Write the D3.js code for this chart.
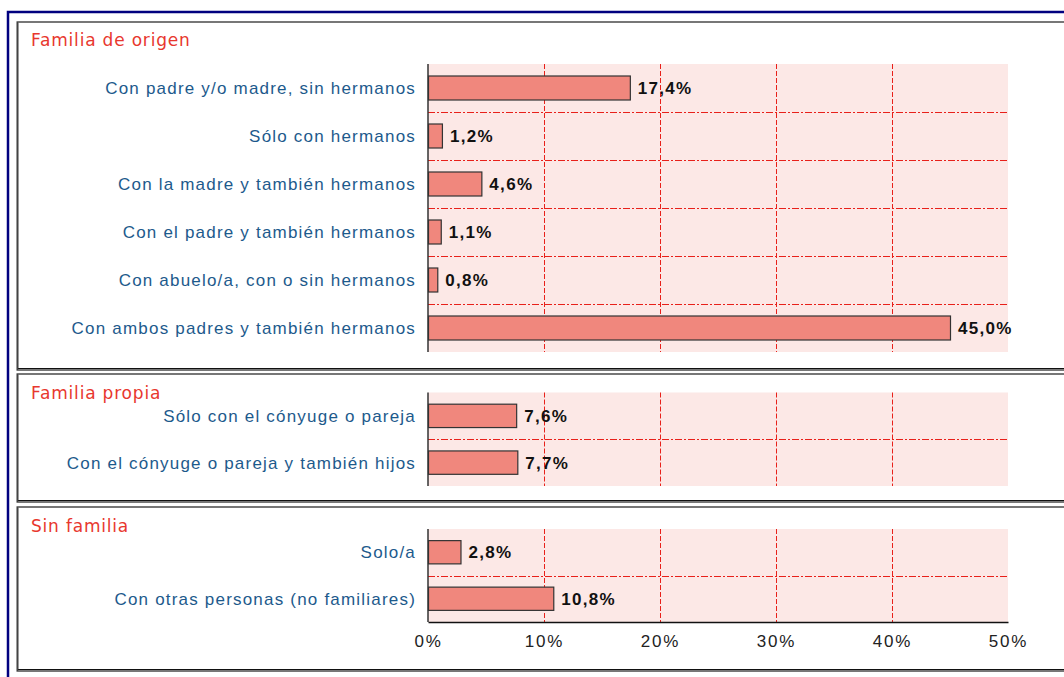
<!DOCTYPE html>
<html>
<head>
<meta charset="utf-8">
<script src="https://cdn.jsdelivr.net/npm/d3@7"></script>
<style>
body{margin:0;background:#fff;}
svg{display:block;}
</style>
</head>
<body>
<div id="chart"></div>
<script>
(function(){
var width = 1064,
	height = 677;

// data
var groupTitles = ["Familia de origen", "Familia propia", "Sin familia"];
var cats1 = ["Con padre y/o madre, sin hermanos", "Sólo con hermanos", "Con la madre y también hermanos",
	"Con el padre y también hermanos", "Con abuelo/a, con o sin hermanos", "Con ambos padres y también hermanos"];
var vals1 = [17.4, 1.2, 4.6, 1.1, 0.8, 45.0];
var cats2 = ["Sólo con el cónyuge o pareja", "Con el cónyuge o pareja y también hijos"];
var vals2 = [7.6, 7.7];
var cats3 = ["Solo/a", "Con otras personas (no familiares)"];
var vals3 = [2.8, 10.8];
var xTicks = [0, 10, 20, 30, 40, 50];

// layout
var plot_left = 428, plot_right = 1008;
var panels = [
	{title:groupTitles[0], cats:cats1, vals:vals1, box:[22,370], title_y:46, plot:[64,352], axis:false},
	{title:groupTitles[1], cats:cats2, vals:vals2, box:[374,502], title_y:399, plot:[392.5,486], axis:false},
	{title:groupTitles[2], cats:cats3, vals:vals3, box:[507,671], title_y:532, plot:[529,622], axis:true}
];

var X = d3.scaleLinear().domain([0,50]).range([plot_left, plot_right]);
var fmt = function(v){ return d3.format(".1f")(v).replace(".", ",") + "%"; };

var svg = d3.select("#chart").append("svg")
	.attr("width", width)
	.attr("height", height);

// outer navy frame
svg.append("path")
	.attr("d", "M8,"+height+" V12 H"+(width+5))
	.attr("fill","none")
	.attr("stroke","#00007f")
	.attr("stroke-width",2.5);

panels.forEach(function(p){
	var g = svg.append("g");

	// panel frame
	g.append("rect")
		.attr("x",17.5).attr("y",p.box[0])
		.attr("width",width).attr("height",p.box[1]-p.box[0])
		.attr("fill","#fff")
		.attr("stroke","#777")
		.attr("stroke-width",2);
	g.append("line")
		.attr("x1",17).attr("x2",width)
		.attr("y1",p.box[1]-1.5).attr("y2",p.box[1]-1.5)
		.attr("stroke","#111").attr("stroke-width",1);
	g.append("line")
		.attr("x1",17.5).attr("x2",17.5)
		.attr("y1",p.box[0]).attr("y2",p.box[1])
		.attr("stroke","#444").attr("stroke-width",1.5);

	g.append("text")
		.attr("x",31).attr("y",p.title_y)
		.attr("fill","#e8372e")
		.attr("font-family","DejaVu Sans, sans-serif")
		.attr("font-size",17)
		.attr("letter-spacing",0.8)
		.text(p.title);

	var Y = d3.scaleBand().domain(p.cats).range(p.plot).paddingInner(0.5).paddingOuter(0.25);
	var step = Y.step();

	// plot background
	g.append("rect")
		.attr("x",X(0)).attr("y",p.plot[0])
		.attr("width",X(50)-X(0)).attr("height",p.plot[1]-p.plot[0])
		.attr("fill","#fce8e6");

	// vertical grid
	g.selectAll(".vgrid").data(xTicks.slice(1,-1)).enter().append("line")
		.attr("x1",function(d){return Math.round(X(d))+0.5})
		.attr("x2",function(d){return Math.round(X(d))+0.5})
		.attr("y1",p.plot[0]).attr("y2",p.plot[1])
		.attr("stroke","#e8201a")
		.attr("stroke-width",1)
		.attr("stroke-dasharray","5,2");

	// horizontal grid between categories
	g.selectAll(".hgrid").data(p.cats.slice(1)).enter().append("line")
		.attr("x1",X(0)).attr("x2",X(50))
		.attr("y1",function(d){return Math.round(Y(d)-step*0.25)+0.5})
		.attr("y2",function(d){return Math.round(Y(d)-step*0.25)+0.5})
		.attr("stroke","#e8201a")
		.attr("stroke-width",1)
		.attr("stroke-dasharray","7,2,2,2");

	// bars
	g.selectAll(".bar").data(p.vals).enter().append("rect")
		.attr("x",X(0)+0.5)
		.attr("y",function(d,i){return Y(p.cats[i])})
		.attr("width",function(d){return X(d)-X(0)})
		.attr("height",Y.bandwidth())
		.attr("fill","#f0877d")
		.attr("stroke","#333")
		.attr("stroke-width",1.2);

	// value labels
	g.selectAll(".val").data(p.vals).enter().append("text")
		.attr("x",function(d){return X(d)+8})
		.attr("y",function(d,i){return Y(p.cats[i])+Y.bandwidth()/2})
		.attr("dy","0.36em")
		.attr("font-family","Liberation Sans, Arial, sans-serif")
		.attr("font-size",17)
		.attr("font-weight","bold")
		.attr("letter-spacing",1.3)
		.attr("fill","#111")
		.text(fmt);

	// category labels
	g.selectAll(".cat").data(p.cats).enter().append("text")
		.attr("x",416)
		.attr("y",function(d){return Y(d)+Y.bandwidth()/2})
		.attr("dy","0.36em")
		.attr("text-anchor","end")
		.attr("font-family","Liberation Sans, Arial, sans-serif")
		.attr("font-size",17)
		.attr("letter-spacing",1.2)
		.attr("fill","#1d5a8c")
		.text(function(d){return d});

	// y axis line
	g.append("line")
		.attr("x1",X(0)).attr("x2",X(0))
		.attr("y1",p.plot[0]).attr("y2",p.plot[1])
		.attr("stroke","#333").attr("stroke-width",1.5);

	if (p.axis) {
		var ax = g.append("g")
			.attr("transform","translate(0,"+p.plot[1]+")")
			.call(d3.axisBottom(X).tickValues(xTicks).tickSize(0).tickPadding(13)
				.tickFormat(function(d){return d+"%"}));
		ax.select(".domain").attr("stroke","#111").attr("stroke-width",1.5);
		ax.selectAll("text")
			.attr("font-family","Liberation Sans, Arial, sans-serif")
			.attr("font-size",17)
			.attr("letter-spacing",1.8)
			.attr("fill","#222");
	}
});
})();
</script>
</body>
</html>
